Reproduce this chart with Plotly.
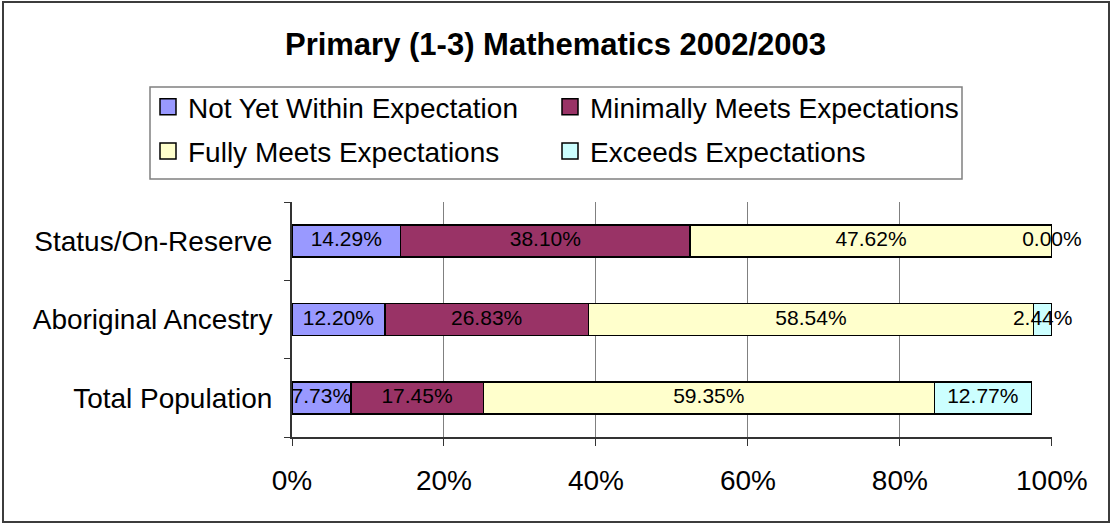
import plotly.graph_objects as go

# data
groups = ["Total Population", "Aboriginal Ancestry", "Status/On-Reserve"]
not_yet = [0.0773, 0.1220, 0.1429]
minimally = [0.1745, 0.2683, 0.3810]
fully = [0.5935, 0.5854, 0.4762]
exceeds = [0.1277, 0.0244, 0.0000]

series_names = ["Not Yet Within Expectation", "Minimally Meets Expectations",
                "Fully Meets Expectations", "Exceeds Expectations"]
series_vals = [not_yet, minimally, fully, exceeds]
series_cols = ["#9999FF", "#993366", "#FFFFCC", "#CCFFFF"]
# legend column for each series (two-column legend like the excel chart)
series_leg = ["legend", "legend2", "legend", "legend2"]

FONT = "Arial, Liberation Sans, sans-serif"

# plot area in pixels
W, H = 1111, 525
L, R, T, B = 292, 59, 202, 88
PW, PH = W - L - R, H - T - B


def px_x(p):
    return (p - L) / PW


def px_y(p):
    return (H - B - p) / PH


fig = go.Figure()

for name, vals, col, leg in zip(series_names, series_vals, series_cols, series_leg):
    fig.add_trace(go.Bar(
        x=vals, y=groups, orientation="h",
        name=name, legendgroup=name, showlegend=False,
        marker=dict(color=col, line=dict(color="#000000", width=1.6)),
        width=0.41,
        hoverinfo="x+name",
    ))
    # legend-only entry so the swatch is as big as in the excel legend
    fig.add_trace(go.Scatter(
        x=[None], y=[None], mode="markers",
        name=name, legend=leg, legendgroup=name,
        marker=dict(symbol="square", size=16, color=col,
                    line=dict(color="#000000", width=1.5)),
    ))

# value labels centred on each segment (also shows 0.00% on empty segment)
base = [0.0] * len(groups)
for vals in series_vals:
    mids = [b + v / 2 for b, v in zip(base, vals)]
    fig.add_trace(go.Scatter(
        x=mids, y=groups, mode="text",
        text=[f"{v * 100:.2f}%" for v in vals],
        textposition="middle center",
        textfont=dict(family=FONT, size=21, color="#000000"),
        showlegend=False, hoverinfo="skip", cliponaxis=False,
    ))
    base = [b + v for b, v in zip(base, vals)]

fig.update_layout(
    width=W, height=H,
    barmode="stack",
    paper_bgcolor="#ffffff",
    plot_bgcolor="#ffffff",
    margin=dict(l=L, r=R, t=T, b=B, autoexpand=False),
    font=dict(family=FONT, size=28, color="#000000"),
    title=dict(
        text="<b>Primary (1-3) Mathematics 2002/2003</b>",
        font=dict(family=FONT, size=31, color="#000000"),
        x=0.5, xanchor="center", xref="container",
        y=1 - 44 / H, yanchor="middle", yref="container",
    ),
    xaxis=dict(
        range=[0, 1.0002], tickvals=[0, 0.2, 0.4, 0.6, 0.8, 1.0],
        tickformat=".0%",
        showgrid=True, gridcolor="#808080", gridwidth=1,
        showline=True, linecolor="#333333", linewidth=2,
        ticks="outside", ticklen=7, tickcolor="#333333",
        ticklabelstandoff=10,
        zeroline=False,
        tickfont=dict(size=28),
    ),
    yaxis=dict(
        categoryorder="array", categoryarray=groups,
        tickson="boundaries",
        showline=True, linecolor="#333333", linewidth=2,
        ticks="outside", ticklen=6, tickcolor="#333333",
        ticklabelstandoff=12,
        showgrid=False, zeroline=False,
        tickfont=dict(size=28),
    ),
    legend=dict(
        xref="container", yref="container",
        x=148 / W, y=1 - 82 / H, xanchor="left", yanchor="top",
        bgcolor="rgba(0,0,0,0)", borderwidth=0,
        font=dict(size=28), tracegroupgap=5,
        orientation="v",
    ),
    legend2=dict(
        xref="container", yref="container",
        x=550 / W, y=1 - 82 / H, xanchor="left", yanchor="top",
        bgcolor="rgba(0,0,0,0)", borderwidth=0,
        font=dict(size=28), tracegroupgap=5,
        orientation="v",
    ),
    shapes=[
        # legend frame
        dict(type="rect", xref="paper", yref="paper",
             x0=px_x(150), x1=px_x(962), y0=px_y(179), y1=px_y(87),
             line=dict(color="#808080", width=1.5), layer="below"),
        # chart frame
        dict(type="rect", xref="paper", yref="paper",
             x0=px_x(3), x1=px_x(1109), y0=px_y(522), y1=px_y(2),
             line=dict(color="#3c3c3c", width=2), layer="below"),
    ],
)

# page body has an 8px default margin; drop it so the chart sits at 0,0
fig.write_html("out.html", config={"displayModeBar": False},
               post_script="document.body.style.margin='0';")
